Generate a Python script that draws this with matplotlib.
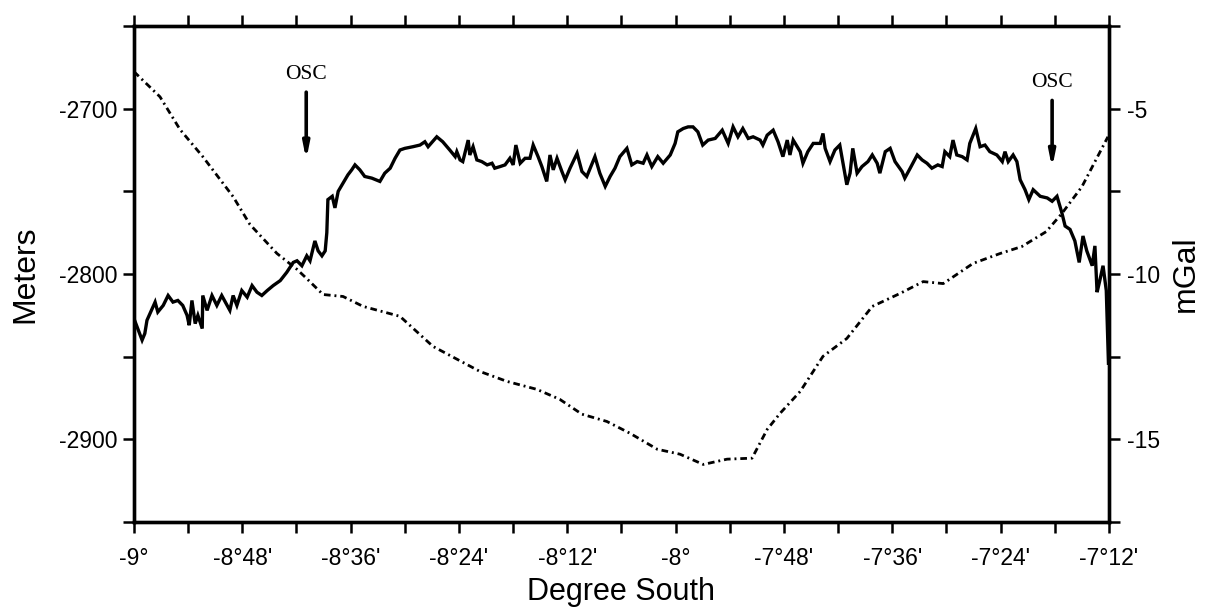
import numpy as np
import matplotlib
matplotlib.use("Agg")
import matplotlib.pyplot as plt

plt.rcParams['font.family'] = ['Liberation Sans', 'DejaVu Sans']

# bathymetry along the ridge axis (degrees, meters)
lon_depth = [-9.000, -8.985, -8.980, -8.976, -8.961, -8.956, -8.946, -8.937, -8.928, -8.919,
             -8.910, -8.902, -8.898, -8.893, -8.887, -8.882, -8.874, -8.873, -8.865, -8.856,
             -8.847, -8.838, -8.828, -8.823, -8.817, -8.810, -8.801, -8.791, -8.782, -8.773,
             -8.764, -8.754, -8.743, -8.730, -8.718, -8.706, -8.699, -8.690, -8.681, -8.675,
             -8.666, -8.660, -8.653, -8.647, -8.644, -8.642, -8.634, -8.629, -8.623, -8.614,
             -8.605, -8.598, -8.592, -8.583, -8.574, -8.561, -8.546, -8.537, -8.527, -8.518,
             -8.509, -8.500, -8.485, -8.472, -8.463, -8.457, -8.441, -8.430, -8.417, -8.407,
             -8.404, -8.398, -8.393, -8.383, -8.380, -8.374, -8.367, -8.358, -8.348, -8.339,
             -8.334, -8.324, -8.315, -8.306, -8.300, -8.295, -8.287, -8.278, -8.269, -8.263,
             -8.254, -8.247, -8.238, -8.232, -8.226, -8.219, -8.210, -8.204, -8.195, -8.182,
             -8.173, -8.164, -8.154, -8.149, -8.140, -8.130, -8.121, -8.112, -8.103, -8.090,
             -8.081, -8.071, -8.060, -8.053, -8.044, -8.033, -8.023, -8.010, -8.001, -7.996,
             -7.986, -7.977, -7.968, -7.959, -7.950, -7.940, -7.927, -7.914, -7.903, -7.894,
             -7.885, -7.876, -7.866, -7.857, -7.844, -7.839, -7.831, -7.820, -7.811, -7.802,
             -7.794, -7.789, -7.783, -7.770, -7.765, -7.756, -7.746, -7.733, -7.728, -7.724,
             -7.715, -7.706, -7.697, -7.691, -7.684, -7.678, -7.673, -7.665, -7.656, -7.645,
             -7.637, -7.628, -7.623, -7.613, -7.604, -7.595, -7.582, -7.577, -7.567, -7.554,
             -7.545, -7.536, -7.527, -7.516, -7.508, -7.503, -7.494, -7.488, -7.481, -7.471,
             -7.462, -7.457, -7.446, -7.438, -7.429, -7.420, -7.407, -7.397, -7.392, -7.386,
             -7.377, -7.370, -7.364, -7.355, -7.348, -7.340, -7.327, -7.314, -7.305, -7.296,
             -7.287, -7.281, -7.272, -7.263, -7.255, -7.248, -7.241, -7.231, -7.226, -7.222,
             -7.217, -7.211, -7.205, -7.201]
depth = [-2827, -2840, -2836, -2828, -2817, -2823, -2819, -2813, -2817, -2816,
         -2819, -2825, -2831, -2816, -2830, -2825, -2833, -2813, -2822, -2813,
         -2819, -2813, -2819, -2822, -2813, -2819, -2810, -2814, -2807, -2811,
         -2813, -2810, -2807, -2804, -2799, -2793, -2792, -2795, -2789, -2792,
         -2780, -2786, -2789, -2786, -2775, -2755, -2753, -2760, -2750, -2745,
         -2740, -2737, -2734, -2737, -2741, -2742, -2744, -2739, -2736, -2730,
         -2725, -2724, -2723, -2722, -2720, -2723, -2717, -2720, -2725, -2729,
         -2726, -2731, -2732, -2719, -2728, -2723, -2731, -2732, -2734, -2733,
         -2736, -2735, -2734, -2730, -2734, -2722, -2733, -2730, -2730, -2722,
         -2729, -2735, -2744, -2728, -2737, -2730, -2738, -2743, -2736, -2727,
         -2738, -2741, -2733, -2729, -2739, -2747, -2741, -2736, -2729, -2724,
         -2734, -2732, -2733, -2728, -2735, -2729, -2733, -2728, -2721, -2714,
         -2712, -2711, -2711, -2714, -2722, -2719, -2718, -2713, -2721, -2711,
         -2717, -2712, -2718, -2717, -2719, -2722, -2716, -2713, -2720, -2729,
         -2719, -2728, -2719, -2726, -2733, -2726, -2721, -2721, -2715, -2724,
         -2732, -2725, -2722, -2733, -2746, -2739, -2724, -2739, -2735, -2732,
         -2728, -2733, -2739, -2726, -2724, -2732, -2738, -2742, -2736, -2728,
         -2731, -2733, -2736, -2734, -2735, -2726, -2729, -2719, -2728, -2729,
         -2731, -2721, -2712, -2723, -2722, -2726, -2728, -2732, -2726, -2732,
         -2728, -2732, -2743, -2749, -2755, -2749, -2753, -2754, -2756, -2753,
         -2763, -2771, -2773, -2780, -2793, -2777, -2786, -2795, -2783, -2811,
         -2804, -2795, -2810, -2854]

# gravity anomaly (degrees, mGal)
lon_grav = [-9.000, -8.952, -8.915, -8.873, -8.817, -8.786, -8.736, -8.699, -8.681, -8.651,
            -8.614, -8.577, -8.509, -8.448, -8.361, -8.311, -8.256, -8.214, -8.173, -8.127,
            -8.084, -8.034, -7.992, -7.949, -7.905, -7.859, -7.831, -7.807, -7.770, -7.728,
            -7.684, -7.637, -7.586, -7.543, -7.506, -7.451, -7.401, -7.361, -7.316, -7.287,
            -7.250, -7.202]
grav = [-3.88, -4.64, -5.63, -6.45, -7.66, -8.50, -9.38, -9.86, -10.14, -10.62,
        -10.68, -10.98, -11.28, -12.19, -12.95, -13.25, -13.49, -13.79, -14.24, -14.46,
        -14.82, -15.30, -15.45, -15.76, -15.60, -15.57, -14.70, -14.21, -13.55, -12.49,
        -11.95, -10.98, -10.59, -10.23, -10.29, -9.68, -9.38, -9.17, -8.72, -8.17,
        -7.36, -5.85]

x_ticks = np.round(np.arange(-9.0, -7.19, 0.1), 2)
x_labels = ["-9°", "", "-8°48'", "", "-8°36'", "", "-8°24'", "", "-8°12'", "",
            "-8°", "", "-7°48'", "", "-7°36'", "", "-7°24'", "", "-7°12'"]
m_ticks = [-2950, -2900, -2850, -2800, -2750, -2700, -2650]
m_labels = ["", "-2900", "", "-2800", "", "-2700", ""]
g_ticks = [-17.5, -15, -12.5, -10, -7.5, -5, -2.5]
g_labels = ["", "-15", "", "-10", "", "-5", ""]

# OSC arrows: longitude, arrow top, arrow tip (meters)
osc_lon = [-8.682, -7.305]
osc_top = [-2690, -2695]
osc_tip = [-2731, -2736]

fig = plt.figure(figsize=(12.07, 6.11), dpi=100)
ax = fig.add_axes([0.111, 0.1457, 0.8078, 0.8117])
ax2 = ax.twinx()

ax.plot(lon_depth, depth, color='black', lw=2.4, zorder=3, solid_joinstyle='miter')
ax2.plot(lon_grav, grav, color='black', lw=2.0, linestyle=(0, (2.4, 1.4, 0.7, 1.4)))

ax.set_xlim(-9.0, -7.2)
ax.set_ylim(-2950, -2650)
ax2.set_ylim(-17.5, -2.5)

ax.set_xticks(x_ticks)
ax.set_xticklabels(x_labels)
ax.set_yticks(m_ticks)
ax.set_yticklabels(m_labels)
ax2.set_yticks(g_ticks)
ax2.set_yticklabels(g_labels)

ax.tick_params(axis='x', which='both', direction='out', length=8, width=1.8,
               top=True, labeltop=False, labelsize=16.5, pad=10)
ax.tick_params(axis='y', direction='out', length=8, width=1.8, labelsize=16.5, pad=4)
ax2.tick_params(axis='y', direction='out', length=8, width=1.8, labelsize=16.5, pad=5)

for a in (ax, ax2):
    for s in a.spines.values():
        s.set_linewidth(2.4)

ax.set_xlabel('Degree South', fontsize=22, labelpad=5)
ax.set_ylabel('Meters', fontsize=23, labelpad=13)
ax2.set_ylabel('mGal', fontsize=23, labelpad=8)

# overlapping spreading centre markers
for xa, ya0, ya1 in zip(osc_lon, osc_top, osc_tip):
    ax.annotate('', xy=(xa, ya1), xytext=(xa, ya0),
                arrowprops=dict(arrowstyle='-|>,head_length=0.9,head_width=0.18',
                                color='black', lw=2.6, shrinkA=0, shrinkB=0))
    ax.text(xa, ya0 + 5, 'OSC', ha='center', va='bottom', fontsize=15.5,
            family=['Liberation Serif', 'DejaVu Serif'])

fig.savefig('out.png', dpi=100)
